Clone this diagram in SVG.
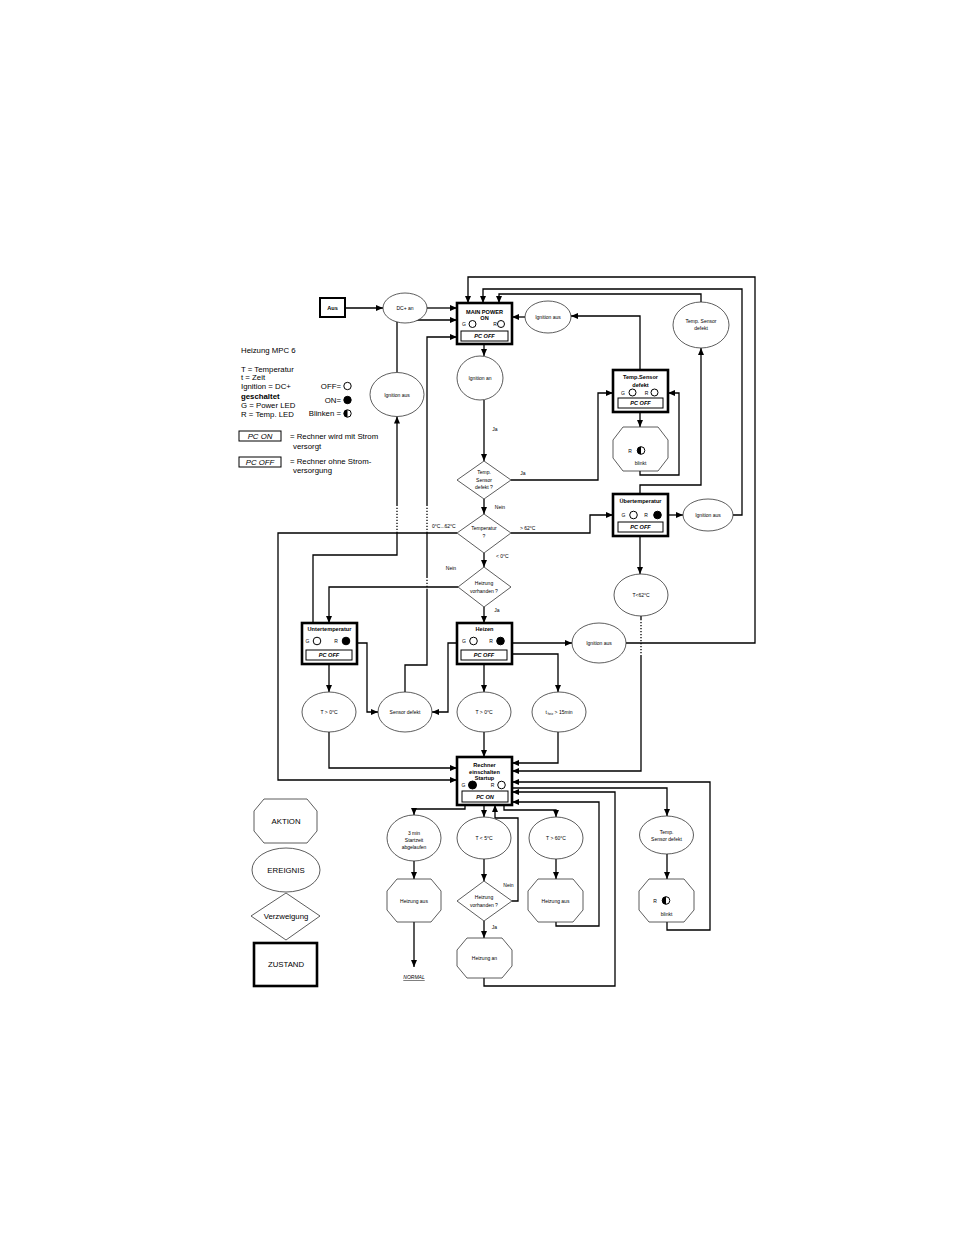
<svg xmlns="http://www.w3.org/2000/svg" width="954" height="1235" viewBox="0 0 954 1235">
<style>
.ln{fill:none;stroke:#000;stroke-width:1.3}
.dt{fill:none;stroke:#000;stroke-width:1.3;stroke-dasharray:1.2 1.8}
.st{fill:#fff;stroke:#000;stroke-width:2.6}
.sh{fill:#fff;stroke:#333;stroke-width:0.8}
.pc{fill:#fff;stroke:#000;stroke-width:1}
.led{fill:#fff;stroke:#000;stroke-width:1}
.on{fill:#000;stroke:#000;stroke-width:1}
text{font-family:"Liberation Sans",Arial,sans-serif;font-size:5px;text-anchor:middle;dominant-baseline:central;fill:#000}
.b{font-weight:bold;font-size:5.6px}
.pt{font-weight:bold;font-style:italic;font-size:5.6px}
.lg{font-size:7.8px;text-anchor:start}
.lr{font-size:7.8px;text-anchor:end}
.l{text-anchor:start}
.big{font-size:7.8px}
</style>
<defs>
<marker id="a" viewBox="0 0 7 6" markerWidth="7" markerHeight="6" refX="7" refY="3" orient="auto" markerUnits="userSpaceOnUse"><path d="M0,0 L7,3 L0,6 z" fill="#000"/></marker>
</defs>
<rect width="954" height="1235" fill="#fff"/>

<!-- Legend -->
<g id="legend">
<text class="lg" x="241" y="350">Heizung MPC 6</text>
<text class="lg" x="241" y="369">T = Temperatur</text>
<text class="lg" x="241" y="377.5">t = Zeit</text>
<text class="lg" x="241" y="386">Ignition = DC+</text>
<text class="lg" x="241" y="396" font-weight="bold">geschaltet</text>
<text class="lg" x="241" y="405">G = Power LED</text>
<text class="lg" x="241" y="414">R = Temp. LED</text>
<text class="lr" x="341" y="386">OFF=</text>
<circle class="led" cx="347.5" cy="386" r="3.7"/>
<text class="lr" x="341" y="400">ON=</text>
<circle class="on" cx="347.5" cy="400" r="3.7"/>
<text class="lr" x="341" y="413.5">Blinken =</text>
<circle class="led" cx="347.5" cy="413.5" r="3.7"/>
<path d="M347.5,409.8 A3.7,3.7 0 0 0 347.5,417.2 Z" fill="#000"/>
<rect class="pc" x="239" y="431" width="42" height="10"/>
<text class="big" x="260" y="436" font-style="italic">PC ON</text>
<text class="lg" x="290" y="436">= Rechner wird mit Strom</text>
<text class="lg" x="293" y="446">versorgt</text>
<rect class="pc" x="239" y="457" width="42" height="10"/>
<text class="big" x="260" y="462" font-style="italic">PC OFF</text>
<text class="lg" x="290" y="461">= Rechner ohne Strom-</text>
<text class="lg" x="293" y="470.5">versorgung</text>
</g>

<g id="legend-shapes">
<polygon class="sh" points="264,799 307,799 317,811 317,831 307,843 264,843 254,831 254,811"/>
<text class="big" x="286" y="821">AKTION</text>
<ellipse class="sh" cx="286" cy="870" rx="34" ry="22"/>
<text class="big" x="286" y="870">EREIGNIS</text>
<polygon class="sh" points="286,893 320,916 286,940 251,916"/>
<text class="big" x="286" y="916">Verzweigung</text>
<rect class="st" x="254" y="943" width="63" height="43"/>
<text class="big" x="286" y="964">ZUSTAND</text>
</g>

<!-- Connectors -->
<g id="connectors">
<path class="ln" d="M345,308 H383" marker-end="url(#a)"/>
<path class="ln" d="M427,308 H457" marker-end="url(#a)"/>
<path class="ln" d="M397,372 V320 H457" marker-end="url(#a)"/>
<path class="ln" d="M405,692 V665 H427 V590"/>
<path class="dt" d="M427,590 V577"/>
<path class="ln" d="M427,577 V533"/>
<path class="dt" d="M427,533 V505"/>
<path class="ln" d="M427,505 V337 H457" marker-end="url(#a)"/>
<path class="ln" d="M313,623 V555 H397 V533"/>
<path class="dt" d="M397,533 V505"/>
<path class="ln" d="M397,505 V416.5" marker-end="url(#a)"/>
<path class="ln" d="M457,533 H278 V780 H457" marker-end="url(#a)"/>
<path class="ln" d="M484,344 V356" marker-end="url(#a)"/>
<path class="ln" d="M484,400 V461" marker-end="url(#a)"/>
<path class="ln" d="M511,480 H598 V393 H613" marker-end="url(#a)"/>
<path class="ln" d="M484,499 V514" marker-end="url(#a)"/>
<path class="ln" d="M511,533 H590 V515 H613" marker-end="url(#a)"/>
<path class="ln" d="M484,553 V567" marker-end="url(#a)"/>
<path class="ln" d="M458,587 H329 V623" marker-end="url(#a)"/>
<path class="ln" d="M484,607 V623" marker-end="url(#a)"/>
<path class="ln" d="M329,664 V692" marker-end="url(#a)"/>
<path class="ln" d="M357,643 H367 V712 H378" marker-end="url(#a)"/>
<path class="ln" d="M457,643 H448 V712 H432" marker-end="url(#a)"/>
<path class="ln" d="M484,664 V692" marker-end="url(#a)"/>
<path class="ln" d="M512,643 H572" marker-end="url(#a)"/>
<path class="ln" d="M512,654 H558 V692" marker-end="url(#a)"/>
<path class="ln" d="M329,732 V768 H457" marker-end="url(#a)"/>
<path class="ln" d="M484,732 V757" marker-end="url(#a)"/>
<path class="ln" d="M558,732 V763 H512" marker-end="url(#a)"/>
<path class="ln" d="M626,643 H755 V277 H468 V303" marker-end="url(#a)"/>
<path class="ln" d="M640,370 V316 H571" marker-end="url(#a)"/>
<path class="ln" d="M525,317 H512" marker-end="url(#a)"/>
<path class="ln" d="M640,412 V427" marker-end="url(#a)"/>
<path class="ln" d="M640,471 V475 H679 V393 H668" marker-end="url(#a)"/>
<path class="ln" d="M668,515 H683" marker-end="url(#a)"/>
<path class="ln" d="M733,515 H742 V289 H483 V303" marker-end="url(#a)"/>
<path class="ln" d="M640,494 V485 H701 V348" marker-end="url(#a)"/>
<path class="ln" d="M701,302 V294 H499 V303" marker-end="url(#a)"/>
<path class="ln" d="M640,536 V574" marker-end="url(#a)"/>
<path class="ln" d="M641,616 V619"/>
<path class="dt" d="M641,619 V656"/>
<path class="ln" d="M641,656 V771 H512" marker-end="url(#a)"/>
<path class="ln" d="M465,805 V809 H414 V815" marker-end="url(#a)"/>
<path class="ln" d="M414,861 V879" marker-end="url(#a)"/>
<path class="ln" d="M414,922 V967" marker-end="url(#a)"/>
<path class="ln" d="M484,805 V817" marker-end="url(#a)"/>
<path class="ln" d="M484,859 V881" marker-end="url(#a)"/>
<path class="ln" d="M512,901 H518 V818 H495 V805" marker-end="url(#a)"/>
<path class="ln" d="M484,921 V938" marker-end="url(#a)"/>
<path class="ln" d="M484,978 V986 H615 V792 H512" marker-end="url(#a)"/>
<path class="ln" d="M504,805 V810 H556 V817" marker-end="url(#a)"/>
<path class="ln" d="M556,859 V879" stroke-width="1.8" marker-end="url(#a)"/>
<path class="ln" d="M556,922 V926 H599 V802 H512" marker-end="url(#a)"/>
<path class="ln" d="M512,788 H667 V816" marker-end="url(#a)"/>
<path class="ln" d="M667,854 V879" marker-end="url(#a)"/>
<path class="ln" d="M667,922 V930 H710 V782 H512" marker-end="url(#a)"/>
</g>

<!-- Labels -->
<g id="labels">
<text x="495" y="429">Ja</text>
<text x="523" y="473">Ja</text>
<text x="500" y="507">Nein</text>
<text class="l" x="520" y="528">&gt; 62°C</text>
<text class="l" x="432" y="526">0°C...62°C</text>
<text class="l" x="496" y="555.5">&lt; 0°C</text>
<text x="451" y="568">Nein</text>
<text x="497" y="610">Ja</text>
<text x="508.5" y="885">Nein</text>
<text x="494.5" y="927">Ja</text>
</g>

<!-- Nodes -->
<g id="aus">
<rect x="320" y="298" width="25" height="19" fill="#fff" stroke="#000" stroke-width="2"/>
<text class="b" x="332.5" y="307.5">Aus</text>
</g>
<g id="dc-an">
<ellipse class="sh" cx="405" cy="308" rx="22" ry="15"/>
<text x="405" y="308">DC+ an</text>
</g>
<g id="main-power">
<rect class="st" x="457" y="303" width="55" height="41"/>
<text class="b" x="484.5" y="311.5">MAIN POWER</text>
<text class="b" x="484.5" y="318" font-size="6.2">ON</text>
<text x="464" y="324">G</text>
<circle class="led" cx="472.5" cy="324" r="3.5"/>
<text x="495" y="324">R</text>
<circle class="led" cx="501" cy="324" r="3.5"/>
<rect class="pc" x="461" y="331" width="47" height="10"/>
<text class="pt" x="484.5" y="336">PC OFF</text>
</g>
<g id="ignition-aus-left">
<ellipse class="sh" cx="397" cy="394.5" rx="27" ry="22"/>
<text x="397" y="394.5">Ignition aus</text>
</g>
<g id="ignition-aus-top">
<ellipse class="sh" cx="548" cy="317" rx="23" ry="16"/>
<text x="548" y="317">Ignition aus</text>
</g>
<g id="ignition-an">
<ellipse class="sh" cx="480" cy="378" rx="23" ry="22"/>
<text x="480" y="378">Ignition an</text>
</g>
<g id="sensor-defekt-dec">
<polygon class="sh" points="484,461 511,480 484,499 457,480"/>
<text x="484" y="472">Temp.</text>
<text x="484" y="479.5">Sensor</text>
<text x="484" y="487">defekt ?</text>
</g>
<g id="temperatur-dec">
<polygon class="sh" points="484,514 511,533 484,553 457,533"/>
<text x="484" y="527.5">Temperatur</text>
<text x="484" y="535.5">?</text>
</g>
<g id="heizung-vorhanden-dec">
<polygon class="sh" points="484,567 511,587 484,607 458,587"/>
<text x="484" y="583">Heizung</text>
<text x="484" y="590.5">vorhanden ?</text>
</g>
<g id="temp-sensor-defekt-state">
<rect class="st" x="613" y="370" width="55" height="42"/>
<text class="b" x="640.5" y="377">Temp.Sensor</text>
<text class="b" x="640.5" y="384.5">defekt</text>
<text x="623" y="392.5">G</text>
<circle class="led" cx="632.5" cy="392.5" r="3.5"/>
<text x="646.5" y="392.5">R</text>
<circle class="led" cx="654.5" cy="392.5" r="3.5"/>
<rect class="pc" x="618" y="398" width="45" height="10"/>
<text class="pt" x="640.5" y="403">PC OFF</text>
</g>
<g id="r-blinkt-top">
<polygon class="sh" points="623,427 658,427 668,440 668,458 658,471 623,471 613,458 613,440"/>
<text x="630" y="450.5">R</text>
<circle class="led" cx="641" cy="450.5" r="3.8"/>
<path d="M641,446.7 A3.8,3.8 0 0 0 641,454.3 Z" fill="#000"/>
<text x="640.5" y="462.5">blinkt</text>
</g>
<g id="temp-sensor-defekt-top">
<ellipse class="sh" cx="701" cy="325" rx="28" ry="23"/>
<text x="701" y="321">Temp. Sensor</text>
<text x="701" y="327.5">defekt</text>
</g>
<g id="uebertemperatur">
<rect class="st" x="613" y="494" width="55" height="42"/>
<text class="b" x="640.5" y="500.5">Übertemperatur</text>
<text x="623.5" y="515">G</text>
<circle class="led" cx="633.5" cy="515" r="3.8"/>
<text x="646" y="515">R</text>
<circle class="on" cx="657.5" cy="515" r="3.8"/>
<rect class="pc" x="618" y="522" width="45" height="10"/>
<text class="pt" x="640.5" y="527">PC OFF</text>
</g>
<g id="ignition-aus-right">
<ellipse class="sh" cx="708" cy="515" rx="25" ry="16"/>
<text x="708" y="515">Ignition aus</text>
</g>
<g id="t-lt-62">
<ellipse class="sh" cx="641" cy="595" rx="27" ry="21"/>
<text x="641" y="595">T&lt;62°C</text>
</g>
<g id="untertemperatur">
<rect class="st" x="302" y="623" width="55" height="41"/>
<text class="b" x="329.5" y="628.5">Untertemperatur</text>
<text x="307.5" y="641">G</text>
<circle class="led" cx="317" cy="641" r="3.8"/>
<text x="336" y="641">R</text>
<circle class="on" cx="346" cy="641" r="3.8"/>
<rect class="pc" x="306" y="650" width="46" height="10"/>
<text class="pt" x="329" y="655">PC OFF</text>
</g>
<g id="heizen">
<rect class="st" x="457" y="623" width="55" height="41"/>
<text class="b" x="484.5" y="628.5">Heizen</text>
<text x="464" y="641">G</text>
<circle class="led" cx="473.5" cy="641" r="3.8"/>
<text x="491" y="641">R</text>
<circle class="on" cx="500.5" cy="641" r="3.8"/>
<rect class="pc" x="461" y="650" width="46" height="10"/>
<text class="pt" x="484" y="655">PC OFF</text>
</g>
<g id="ignition-aus-heizen">
<ellipse class="sh" cx="599" cy="643" rx="27" ry="20"/>
<text x="599" y="643">Ignition aus</text>
</g>
<g id="t-gt-0-left">
<ellipse class="sh" cx="329" cy="712" rx="27" ry="20"/>
<text x="329" y="712">T &gt; 0°C</text>
</g>
<g id="sensor-defekt">
<ellipse class="sh" cx="405" cy="712" rx="27" ry="20"/>
<text x="405" y="712">Sensor defekt</text>
</g>
<g id="t-gt-0-mid">
<ellipse class="sh" cx="484" cy="712" rx="27" ry="20"/>
<text x="484" y="712">T &gt; 0°C</text>
</g>
<g id="t-heiz">
<ellipse class="sh" cx="559" cy="712" rx="27" ry="20"/>
<text x="559" y="712">t<tspan font-size="3" dy="1.5"> heiz</tspan><tspan dy="-1.5"> &gt; 15min</tspan></text>
</g>
<g id="rechner">
<rect class="st" x="457" y="757" width="55" height="48"/>
<text class="b" x="484.5" y="765">Rechner</text>
<text class="b" x="484.5" y="771.7">einschalten</text>
<text class="b" x="484.5" y="778.3">Startup</text>
<text x="463.5" y="785">G</text>
<circle class="on" cx="472.5" cy="785" r="4"/>
<text x="492.5" y="785">R</text>
<circle class="led" cx="501.5" cy="785" r="3.8"/>
<rect class="pc" x="462" y="791" width="46" height="11"/>
<text class="pt" x="485" y="796.5">PC ON</text>
</g>
<g id="startzeit">
<ellipse class="sh" cx="414" cy="838" rx="27" ry="23"/>
<text x="414" y="832.5">3 min</text>
<text x="414" y="839.5">Startzeit</text>
<text x="414" y="846.5">abgelaufen</text>
</g>
<g id="heizung-aus-left">
<polygon class="sh" points="397,879 431,879 441,891 441,910 431,922 397,922 387,910 387,891"/>
<text x="414" y="900.5">Heizung aus</text>
</g>
<g id="normal">
<text x="414" y="977" font-size="7.8" font-style="italic" text-decoration="underline">NORMAL</text>
</g>
<g id="t-lt-5">
<ellipse class="sh" cx="484" cy="838" rx="27" ry="21"/>
<text x="484" y="838">T &lt; 5°C</text>
</g>
<g id="heizung-vorhanden-2">
<polygon class="sh" points="484,881 512,901 484,921 457,901"/>
<text x="484" y="897">Heizung</text>
<text x="484" y="904.5">vorhanden ?</text>
</g>
<g id="heizung-an">
<polygon class="sh" points="467,938 502,938 512,950 512,966 502,978 467,978 457,966 457,950"/>
<text x="484.5" y="958">Heizung an</text>
</g>
<g id="t-gt-60">
<ellipse class="sh" cx="556" cy="838" rx="27" ry="21"/>
<text x="556" y="838">T &gt; 60°C</text>
</g>
<g id="heizung-aus-right">
<polygon class="sh" points="538,879 573,879 583,891 583,910 573,922 538,922 528,910 528,891"/>
<text x="555.5" y="900.5">Heizung aus</text>
</g>
<g id="temp-sensor-defekt-bottom">
<ellipse class="sh" cx="666.5" cy="835" rx="27" ry="19"/>
<text x="666.5" y="831.5" font-size="5.5">Temp.</text>
<text x="666.5" y="839">Sensor defekt</text>
</g>
<g id="r-blinkt-bottom">
<polygon class="sh" points="649,879 684,879 694,891 694,910 684,922 649,922 639,910 639,891"/>
<text x="655" y="900.5">R</text>
<circle class="led" cx="666" cy="900.5" r="3.8"/>
<path d="M666,896.7 A3.8,3.8 0 0 0 666,904.3 Z" fill="#000"/>
<text x="666.5" y="914">blinkt</text>
</g>
</svg>
